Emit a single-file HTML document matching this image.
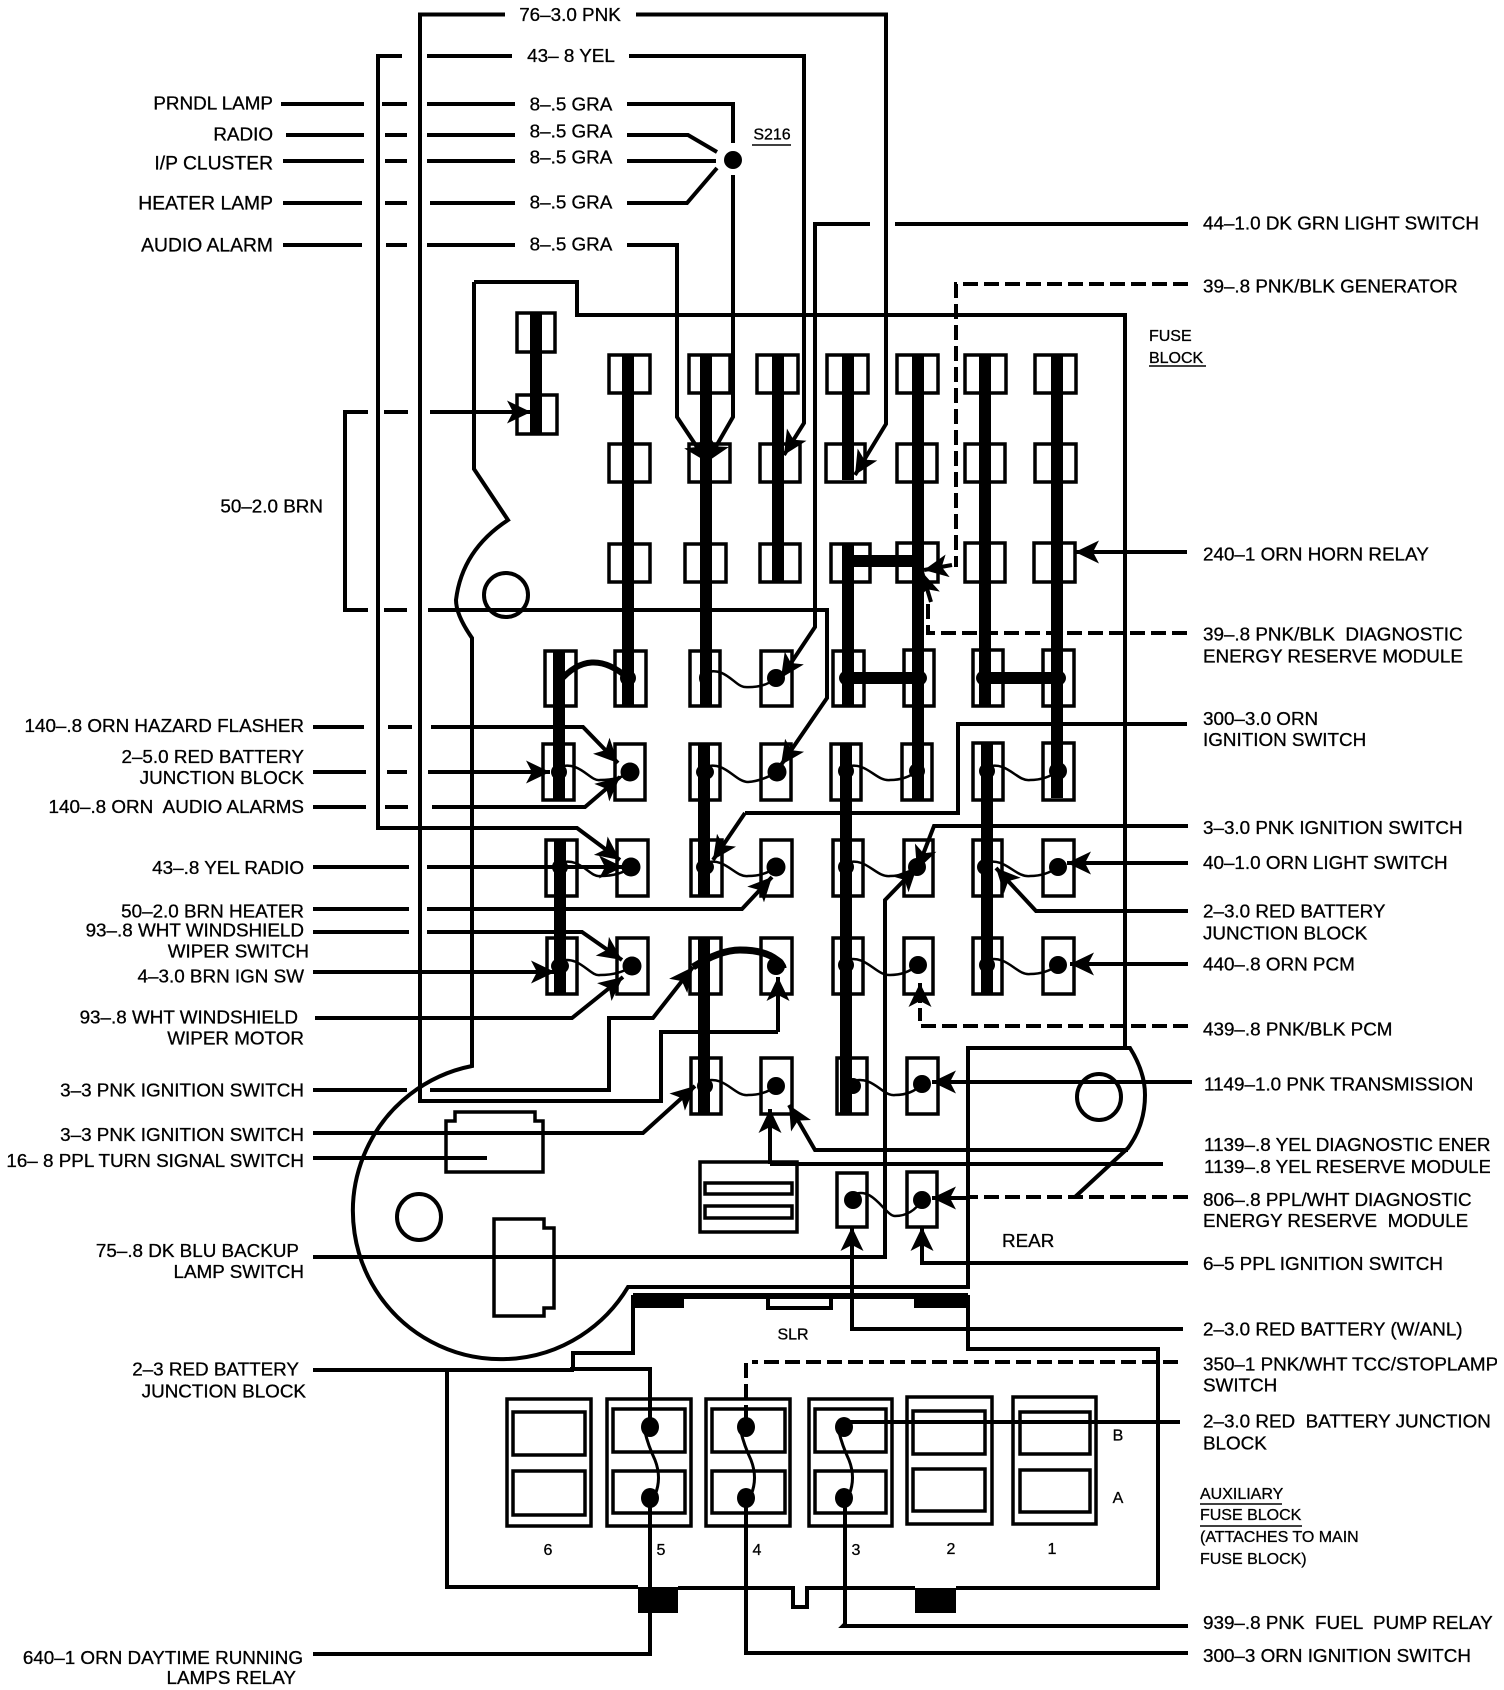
<!DOCTYPE html>
<html><head><meta charset="utf-8"><style>
html,body{margin:0;padding:0;background:#fff}
svg{display:block}
text{font-family:"Liberation Sans",sans-serif;font-size:18.85px;fill:#000;stroke:#000;stroke-width:.3;white-space:pre}
.e{text-anchor:end}.m{text-anchor:middle}.s{font-size:16px}.n{font-size:19.3px}
.w{fill:none;stroke:#000;stroke-width:4}
.a{fill:none;stroke:#000;stroke-width:4;marker-end:url(#ar)}
.d{fill:none;stroke:#000;stroke-width:4;stroke-dasharray:15 6}
.t{fill:none;stroke:#000;stroke-width:12}
.b{fill:#fff;fill-opacity:0;stroke:#000;stroke-width:3.5}
.v{fill:none;stroke:#000;stroke-width:2.5}
</style></head><body>
<svg width="1504" height="1690" viewBox="0 0 1504 1690" xmlns="http://www.w3.org/2000/svg">
<defs><marker id="ar" markerUnits="userSpaceOnUse" markerWidth="28" markerHeight="28" refX="24" refY="14" orient="auto"><path d="M24 14 L0 2.500 L6 14 L0 25.500 Z" fill="#000"/></marker></defs>
<rect width="1504" height="1690" fill="#fff"/>

<!-- fuse block outline -->
<path class="w" d="M474 282H577V315H1125V1048M474 282V469L508 520Q462 550 456 600Q456 615 472 638V1066A148 148 0 1 0 628 1287H968V1048H1130Q1145 1072 1145 1095Q1145 1125 1128 1148L1075 1197"/>
<ellipse class="w" cx="506" cy="595" rx="22" ry="22"/>
<ellipse class="w" cx="1099" cy="1097" rx="22" ry="23"/>
<ellipse class="w" cx="419" cy="1217" rx="22" ry="23"/>
<path class="w" style="stroke-width:3.5" d="M446 1172V1121H455V1112H535V1121H543V1172Z"/>
<path class="w" style="stroke-width:3.5" d="M494 1219H544V1228H554V1308H544V1316H494Z"/>
<rect class="b" x="700" y="1162" width="97" height="70"/>
<rect class="b" x="705" y="1183" width="87" height="11"/>
<rect class="b" x="705" y="1206" width="87" height="12"/>

<!-- upper fuses -->
<g class="b">
<rect x="517" y="313" width="38" height="39"/><rect x="517" y="395" width="40" height="39"/>
<rect x="609" y="355" width="41" height="38"/><rect x="609" y="444" width="41" height="38"/><rect x="609" y="544" width="41" height="38"/>
<rect x="689" y="355" width="41" height="38"/><rect x="689" y="444" width="41" height="38"/><rect x="685" y="544" width="41" height="38"/>
<rect x="757" y="355" width="41" height="38"/><rect x="760" y="444" width="40" height="38"/><rect x="760" y="544" width="40" height="38"/>
<rect x="827" y="355" width="41" height="38"/><rect x="826" y="444" width="39" height="38"/><rect x="831" y="544" width="39" height="38"/>
<rect x="897" y="355" width="41" height="38"/><rect x="897" y="444" width="40" height="38"/><rect x="897" y="543" width="41" height="39"/>
<rect x="965" y="355" width="41" height="38"/><rect x="965" y="444" width="40" height="38"/><rect x="965" y="543" width="40" height="39"/>
<rect x="1035" y="355" width="41" height="38"/><rect x="1035" y="444" width="41" height="38"/><rect x="1034" y="543" width="41" height="39"/>
</g>
<!-- lower fuses -->
<g class="b">
<rect x="545" y="651" width="31" height="55"/><rect x="615" y="651" width="31" height="55"/><rect x="690" y="651" width="30" height="55"/><rect x="761" y="651" width="31" height="55"/><rect x="833" y="651" width="31" height="55"/><rect x="904" y="650" width="30" height="56"/><rect x="973" y="650" width="30" height="56"/><rect x="1043" y="650" width="31" height="56"/>
<rect x="543" y="744" width="31" height="56"/><rect x="615" y="744" width="30" height="56"/><rect x="690" y="744" width="30" height="56"/><rect x="761" y="744" width="30" height="56"/><rect x="831" y="744" width="30" height="56"/><rect x="902" y="744" width="30" height="56"/><rect x="973" y="743" width="30" height="57"/><rect x="1043" y="743" width="31" height="57"/>
<rect x="546" y="840" width="31" height="56"/><rect x="617" y="840" width="31" height="56"/><rect x="691" y="840" width="31" height="56"/><rect x="761" y="840" width="31" height="56"/><rect x="833" y="840" width="30" height="56"/><rect x="904" y="840" width="29" height="56"/><rect x="973" y="840" width="29" height="56"/><rect x="1043" y="840" width="31" height="56"/>
<rect x="547" y="938" width="30" height="56"/><rect x="617" y="938" width="31" height="56"/><rect x="690" y="938" width="31" height="56"/><rect x="761" y="938" width="31" height="56"/><rect x="833" y="938" width="30" height="56"/><rect x="904" y="938" width="29" height="56"/><rect x="973" y="938" width="29" height="56"/><rect x="1043" y="938" width="31" height="56"/>
<rect x="691" y="1058" width="30" height="56"/><rect x="761" y="1058" width="31" height="56"/><rect x="837" y="1058" width="30" height="56"/><rect x="907" y="1058" width="31" height="56"/>
<rect x="837" y="1173" width="30" height="54"/><rect x="907" y="1172" width="30" height="55"/>
</g>
<!-- thick bus -->
<g class="t">
<path d="M536 313V434"/>
<path d="M628 355V706"/>
<path d="M706 355V706"/>
<path d="M778 355V583"/>
<path d="M848 355V480"/>
<path d="M918 355V800"/>
<path d="M985 355V706"/>
<path d="M1057 355V798"/>
<path d="M848 543V706"/>
<path d="M559 650V801"/>
<path d="M560 840V994"/>
<path d="M704 745V896"/>
<path d="M704 939V1114"/>
<path d="M846 745V1114"/>
<path d="M987 742V994"/>
<path d="M848 561H918"/>
<path d="M848 678H918"/>
<path d="M985 678H1057"/>
</g>
<path class="w" style="stroke-width:6" d="M559 682Q590 645 628 678"/>
<path class="w" style="stroke-width:7" d="M693 967Q720 950 740 950Q765 950 777 960Q783 965 783 968"/>
<!-- waves -->
<g class="v">
<path d="M705 673C725 665 735 687 745 687Q765 688 776 678"/>
<path d="M559 767C580 760 590 782 600 780Q620 780 630 772"/>
<path d="M705 767C725 760 735 782 748 782Q762 781 777 772"/>
<path d="M846 767C866 760 876 782 890 780Q906 780 917 771"/>
<path d="M987 767C1007 760 1017 782 1030 780Q1046 780 1058 771"/>
<path d="M560 863C580 856 590 878 600 876Q620 876 631 867"/>
<path d="M705 863C725 856 735 878 748 876Q765 876 776 867"/>
<path d="M846 863C866 856 876 878 890 876Q906 876 917 867"/>
<path d="M985 863C1005 856 1015 878 1030 876Q1046 876 1058 867"/>
<path d="M560 961C580 955 590 977 600 975Q620 975 632 966"/>
<path d="M846 960C866 954 876 976 890 975Q906 975 918 965"/>
<path d="M987 960C1007 954 1017 976 1030 974Q1046 974 1058 965"/>
<path d="M705 1081C725 1075 735 1097 748 1095Q765 1095 776 1086"/>
<path d="M853 1081C873 1075 883 1097 895 1095Q912 1095 922 1084"/>
<path d="M853 1195C873 1185 885 1216 895 1216Q912 1216 922 1200"/>
</g>
<!-- dots -->
<g fill="#000">
<ellipse cx="733" cy="160" rx="9" ry="9"/>
<ellipse cx="705" cy="678" rx="6" ry="8"/><ellipse cx="776" cy="678" rx="9" ry="9"/><ellipse cx="628" cy="678" rx="8" ry="8"/><ellipse cx="559" cy="682" rx="6" ry="8"/>
<ellipse cx="848" cy="678" rx="9" ry="8"/><ellipse cx="918" cy="678" rx="9" ry="8"/><ellipse cx="985" cy="678" rx="9" ry="8"/><ellipse cx="1057" cy="678" rx="9" ry="8"/>
<ellipse cx="559" cy="772" rx="8" ry="8"/><ellipse cx="630" cy="772" rx="9.500" ry="9.500"/><ellipse cx="705" cy="772" rx="9" ry="8"/><ellipse cx="777" cy="772" rx="9.500" ry="9.500"/><ellipse cx="846" cy="771" rx="8" ry="8"/><ellipse cx="917" cy="771" rx="8" ry="8"/><ellipse cx="987" cy="771" rx="8" ry="8"/><ellipse cx="1058" cy="771" rx="9" ry="9"/>
<ellipse cx="560" cy="867" rx="8" ry="8"/><ellipse cx="631" cy="867" rx="9.500" ry="9.500"/><ellipse cx="705" cy="867" rx="9" ry="8"/><ellipse cx="776" cy="867" rx="9.500" ry="9.500"/><ellipse cx="846" cy="867" rx="8" ry="8"/><ellipse cx="917" cy="867" rx="9" ry="9"/><ellipse cx="985" cy="867" rx="8" ry="8"/><ellipse cx="1058" cy="867" rx="9" ry="9"/>
<ellipse cx="560" cy="966" rx="9" ry="8"/><ellipse cx="632" cy="966" rx="9.500" ry="9.500"/><ellipse cx="776" cy="966" rx="9" ry="9"/><ellipse cx="846" cy="965" rx="8" ry="8"/><ellipse cx="918" cy="965" rx="9" ry="9"/><ellipse cx="987" cy="965" rx="8" ry="8"/><ellipse cx="1058" cy="965" rx="9" ry="9"/>
<ellipse cx="705" cy="1086" rx="8" ry="8"/><ellipse cx="776" cy="1086" rx="9" ry="9"/><ellipse cx="853" cy="1086" rx="8" ry="8"/><ellipse cx="922" cy="1084" rx="9" ry="9"/>
<ellipse cx="853" cy="1200" rx="9" ry="9"/><ellipse cx="922" cy="1200" rx="9" ry="9"/>
<ellipse cx="650" cy="1427" rx="9" ry="10"/><ellipse cx="650" cy="1498" rx="9" ry="10"/><ellipse cx="746" cy="1427" rx="9" ry="10"/><ellipse cx="746" cy="1498" rx="9" ry="10"/><ellipse cx="844" cy="1427" rx="9" ry="10"/><ellipse cx="844" cy="1498" rx="9" ry="10"/>
</g>

<!-- top wires -->
<path class="w" d="M505 14.500H420V1101H661V1032H778"/>
<path class="a" d="M778 1032V977"/>
<path class="a" d="M636 14.500H886V424L855 475"/>
<path class="w" d="M376 56H402M427 56H512"/>
<path class="a" d="M629 56H804V423L784 455"/>
<path class="a" d="M378 56V828H577L620 860"/>
<path class="w" d="M281 104H364M382 104H407M427 104H515M627 104H733V143"/>
<path class="w" d="M286 135H364M385 135H407M427 135H515M627 135H688L717 152"/>
<path class="w" d="M283 161H364M385 161H407M427 161H515M627 161H716"/>
<path class="w" d="M283 203H362M385 203H407M430 203H515M627 203H687L717 168"/>
<path class="w" d="M283 245H362M386 245H407M427 245H515"/>
<path class="a" d="M627 245H677V417L707 462"/>
<path class="a" d="M733 175V417L707 462"/>
<path class="w" d="M895 224H1188"/>
<path class="a" d="M870 224H815V627L781 678"/>
<!-- 50 BRN -->
<path class="w" d="M368 412H345V610H368M384 412H408M384 610H407"/>
<path class="a" d="M430 412H531"/>
<path class="a" d="M428 610H827V698L781 765"/>
<!-- left wires -->
<path class="w" d="M313 727H364M388 727H412"/>
<path class="a" d="M431 727H583L618 763"/>
<path class="w" d="M313 772H366M387 772H407"/>
<path class="a" d="M428 772H550"/>
<path class="w" d="M313 807H366M385 807H408"/>
<path class="a" d="M432 807H585L620 777"/>
<path class="w" d="M313 867H409"/>
<path class="a" d="M427 867H623"/>
<path class="w" d="M313 909H409"/>
<path class="a" d="M427 909H742L772 877"/>
<path class="w" d="M313 932H409"/>
<path class="a" d="M427 932H582L622 960"/>
<path class="a" d="M313 972H555"/>
<path class="a" d="M315 1018H572L623 977"/>
<path class="w" d="M313 1090H407"/>
<path class="a" d="M430 1090H609V1018H653L693 967"/>
<path class="a" d="M313 1133H643L695 1086"/>
<path class="w" d="M313 1158H487"/>
<path class="a" d="M1128 1150H815L789 1105"/>
<path class="w" d="M770 1164H1163"/>
<path class="a" d="M770 1164V1109"/>
<path class="a" d="M313 1257H885V900L917 867"/>
<!-- right wires -->
<path class="a" d="M1187 552H1075"/>
<path class="d" d="M1188 284H956V567"/>
<path class="a" d="M952 565L924 570"/>
<path class="d" d="M1187 633H928V598"/>
<path class="a" d="M931 602L922 572"/>
<path class="w" d="M1187 724H958V813H745"/>
<path class="a" d="M745 813L713 860"/>
<path class="a" d="M1188 826H934L917 870"/>
<path class="a" d="M1188 863H1067"/>
<path class="a" d="M1188 911H1036L996 868"/>
<path class="a" d="M1188 964H1070"/>
<path class="d" d="M1188 1026H920V1008"/>
<path class="a" d="M920 1003V983"/>
<path class="a" d="M1192 1082H932"/>
<path class="d" d="M1188 1197H966"/>
<path class="a" d="M966 1198H932"/>
<path class="a" d="M1188 1263H922V1227"/>
<path class="a" d="M1183 1329H852V1227"/>

<!-- aux block -->
<path class="w" d="M968 1295V1349H1158V1588H956M915 1588H807V1607H793V1588H678M638 1587H447V1370"/>
<path class="w" d="M633 1295V1353H573V1369"/>
<path class="w" style="stroke-width:6" d="M633 1296H968"/>
<rect x="633" y="1295" width="51" height="13"/><rect x="914" y="1295" width="54" height="13"/>
<path class="w" d="M768 1298V1308H831V1298"/>
<rect x="638" y="1587" width="40" height="26"/><rect x="915" y="1588" width="41" height="25"/>
<g class="b">
<rect x="507" y="1399" width="84" height="127"/><rect x="513" y="1412" width="72" height="43"/><rect x="513" y="1471" width="72" height="44"/>
<rect x="607" y="1399" width="84" height="127"/><rect x="613" y="1409" width="72" height="43"/><rect x="613" y="1471" width="72" height="42"/>
<rect x="706" y="1399" width="84" height="127"/><rect x="712" y="1409" width="73" height="43"/><rect x="712" y="1471" width="73" height="42"/>
<rect x="809" y="1399" width="83" height="127"/><rect x="815" y="1409" width="71" height="43"/><rect x="815" y="1471" width="71" height="42"/>
<rect x="907" y="1397" width="85" height="127"/><rect x="913" y="1411" width="72" height="43"/><rect x="913" y="1469" width="72" height="42"/>
<rect x="1013" y="1397" width="83" height="127"/><rect x="1020" y="1412" width="70" height="42"/><rect x="1020" y="1470" width="70" height="42"/>
</g>
<g class="w" style="stroke-width:3">
<path d="M645 1432Q648 1445 655 1460Q662 1478 655 1495"/>
<path d="M741 1432Q744 1445 751 1460Q758 1478 751 1495"/>
<path d="M839 1432Q842 1445 849 1460Q856 1478 849 1495"/>
</g>
<path class="w" d="M313 1370H572V1369H650V1427M650 1498V1654H313"/>
<path class="d" d="M1178 1362H752"/>
<path class="d" d="M746 1363V1420"/>
<path class="w" d="M746 1498V1653H1188M845 1498V1624L843 1626H1188M844 1422H1180"/>

<g transform="scale(1,0.9975)">
<!-- labels left -->
<text class="e" x="273" y="110">PRNDL LAMP</text>
<text class="e" x="273" y="141">RADIO</text>
<text class="e n" x="273" y="170">I/P CLUSTER</text>
<text class="e n" x="273" y="210">HEATER LAMP</text>
<text class="e n" x="273" y="252">AUDIO ALARM</text>
<text class="e" x="323" y="514">50–2.0 BRN</text>
<text class="e" x="304" y="734">140–.8 ORN HAZARD FLASHER</text>
<text class="e" x="304" y="765">2–5.0 RED BATTERY</text>
<text class="e" x="304" y="786">JUNCTION BLOCK</text>
<text class="e" x="304" y="815">140–.8 ORN  AUDIO ALARMS</text>
<text class="e" x="304" y="876">43–.8 YEL RADIO</text>
<text class="e" x="304" y="920">50–2.0 BRN HEATER</text>
<text class="e" x="304" y="939">93–.8 WHT WINDSHIELD</text>
<text class="e" x="309" y="960">WIPER SWITCH</text>
<text class="e" x="304" y="985">4–3.0 BRN IGN SW</text>
<text class="e" x="298" y="1026">93–.8 WHT WINDSHIELD</text>
<text class="e" x="304" y="1047">WIPER MOTOR</text>
<text class="e" x="304" y="1099">3–3 PNK IGNITION SWITCH</text>
<text class="e" x="304" y="1144">3–3 PNK IGNITION SWITCH</text>
<text class="e" x="304" y="1170">16– 8 PPL TURN SIGNAL SWITCH</text>
<text class="e" x="299" y="1260">75–.8 DK BLU BACKUP</text>
<text class="e" x="304" y="1281">LAMP SWITCH</text>
<text class="e" x="299" y="1379">2–3 RED BATTERY</text>
<text class="e" x="306" y="1401">JUNCTION BLOCK</text>
<text class="e" x="303" y="1668">640–1 ORN DAYTIME RUNNING</text>
<text class="e" x="296" y="1688">LAMPS RELAY</text>
<!-- labels middle -->
<text class="m" x="570" y="21">76–3.0 PNK</text>
<text class="m" x="571" y="62">43– 8 YEL</text>
<text class="m" x="571" y="111">8–.5 GRA</text>
<text class="m" x="571" y="138">8–.5 GRA</text>
<text class="m" x="571" y="164">8–.5 GRA</text>
<text class="m" x="571" y="209">8–.5 GRA</text>
<text class="m" x="571" y="251">8–.5 GRA</text>
<text class="m s" x="772" y="140">S216</text>
<text class="m s" x="793" y="1343">SLR</text>
<text x="1002" y="1250">REAR</text>
<text class="m s" x="548" y="1559">6</text>
<text class="m s" x="661" y="1559">5</text>
<text class="m s" x="757" y="1559">4</text>
<text class="m s" x="856" y="1559">3</text>
<text class="m s" x="951" y="1558">2</text>
<text class="m s" x="1052" y="1558">1</text>
<text class="m s" x="1118" y="1444">B</text>
<text class="m s" x="1118" y="1507">A</text>
<text class="s" x="1149" y="342">FUSE</text>
<text class="s" x="1149" y="364">BLOCK</text>
<!-- labels right -->
<text x="1203" y="230">44–1.0 DK GRN LIGHT SWITCH</text>
<text x="1203" y="293">39–.8 PNK/BLK GENERATOR</text>
<text x="1203" y="562">240–1 ORN HORN RELAY</text>
<text x="1203" y="642">39–.8 PNK/BLK  DIAGNOSTIC</text>
<text x="1203" y="664">ENERGY RESERVE MODULE</text>
<text x="1203" y="727">300–3.0 ORN</text>
<text x="1203" y="748">IGNITION SWITCH</text>
<text x="1203" y="836">3–3.0 PNK IGNITION SWITCH</text>
<text x="1203" y="871">40–1.0 ORN LIGHT SWITCH</text>
<text x="1203" y="920">2–3.0 RED BATTERY</text>
<text x="1203" y="942">JUNCTION BLOCK</text>
<text x="1203" y="973">440–.8 ORN PCM</text>
<text x="1203" y="1038">439–.8 PNK/BLK PCM</text>
<text x="1204" y="1093">1149–1.0 PNK TRANSMISSION</text>
<text x="1204" y="1154">1139–.8 YEL DIAGNOSTIC ENER</text>
<text x="1204" y="1176">1139–.8 YEL RESERVE MODULE</text>
<text x="1203" y="1209">806–.8 PPL/WHT DIAGNOSTIC</text>
<text x="1203" y="1230">ENERGY RESERVE  MODULE</text>
<text x="1203" y="1273">6–5 PPL IGNITION SWITCH</text>
<text x="1203" y="1339">2–3.0 RED BATTERY (W/ANL)</text>
<text x="1203" y="1374">350–1 PNK/WHT TCC/STOPLAMP</text>
<text x="1203" y="1395">SWITCH</text>
<text x="1203" y="1431">2–3.0 RED  BATTERY JUNCTION</text>
<text x="1203" y="1453">BLOCK</text>
<text class="s" x="1200" y="1503">AUXILIARY</text>
<text class="s" x="1200" y="1524">FUSE BLOCK</text>
<text class="s" x="1200" y="1546">(ATTACHES TO MAIN</text>
<text class="s" x="1200" y="1568">FUSE BLOCK)</text>
<text x="1203" y="1633">939–.8 PNK  FUEL  PUMP RELAY</text>
<text x="1203" y="1666">300–3 ORN IGNITION SWITCH</text>
</g>
<path d="M752 145H791M1149 366H1206M1200 1504H1282M1200 1526H1302" stroke="#000" stroke-width="1.5" fill="none"/>
<rect x="1490" y="1140" width="14" height="40" fill="#fff"/>
<rect x="1497" y="1350" width="7" height="30" fill="#fff"/>
<rect x="1494" y="1615" width="10" height="25" fill="#fff"/>
</svg>
</body></html>
